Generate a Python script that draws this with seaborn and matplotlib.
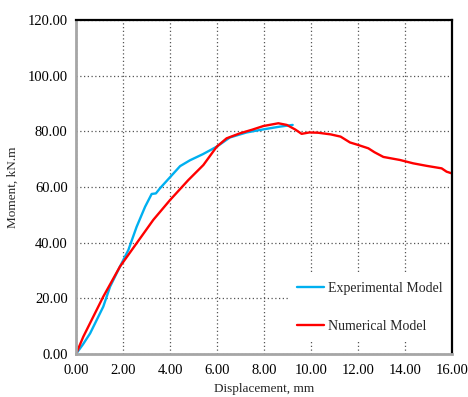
import numpy as np
import pandas as pd
import matplotlib
matplotlib.use("Agg")
import matplotlib.pyplot as plt
import seaborn as sns

exp_x = [0.0, 0.30, 0.60, 1.16, 1.45, 1.87, 2.23, 2.58, 2.94, 3.22, 3.40, 3.57, 4.0, 4.43, 4.85, 5.40, 5.99, 6.55, 7.26, 7.97, 8.68, 9.22]
exp_y = [0.0, 3.5, 7.4, 17.0, 24.2, 31.4, 37.4, 45.7, 52.9, 57.5, 57.7, 59.5, 63.5, 67.5, 69.6, 71.8, 74.5, 77.8, 79.6, 80.7, 81.7, 82.3]

num_x = [0.0, 0.31, 1.16, 1.87, 2.58, 3.29, 4.0, 4.78, 5.42, 5.99, 6.41, 6.98, 7.50, 7.97, 8.61, 8.97, 9.32, 9.60, 9.93, 10.30, 10.84, 11.26, 11.66, 11.97, 12.44, 12.70, 13.08, 13.79, 14.35, 14.92, 15.56, 15.77, 15.99]
num_y = [0.0, 6.2, 20.6, 31.4, 39.8, 48.2, 55.3, 62.5, 67.9, 74.5, 77.5, 79.3, 80.6, 81.9, 82.9, 82.3, 80.7, 79.1, 79.6, 79.5, 78.9, 78.1, 76.0, 75.2, 73.9, 72.5, 70.8, 69.7, 68.5, 67.6, 66.7, 65.5, 64.9]

labels = ["Experimental Model", "Numerical Model"]
colors = ["#00B0F0", "#FF0000"]

df = pd.concat([
    pd.DataFrame({"x": exp_x, "y": exp_y, "series": labels[0]}),
    pd.DataFrame({"x": num_x, "y": num_y, "series": labels[1]}),
], ignore_index=True)

sns.set_style("white")
plt.rcParams["font.family"] = ["Liberation Serif", "DejaVu Serif"]

fig = plt.figure(figsize=(4.68, 3.97), dpi=100)
ax = fig.add_axes([76/468, 43/397, 376/468, 334/397])

sns.lineplot(data=df, x="x", y="y", hue="series", palette=dict(zip(labels, colors)),
             sort=False, estimator=None, linewidth=1.7, ax=ax)

ax.set_xlim(0, 16)
ax.set_ylim(0, 120)
ax.set_xticks(np.arange(0, 16.1, 2))
ax.set_yticks(np.arange(0, 120.1, 20))
ax.xaxis.set_major_formatter(matplotlib.ticker.FormatStrFormatter("%.2f"))
ax.yaxis.set_major_formatter(matplotlib.ticker.FormatStrFormatter("%.2f"))
ax.tick_params(axis="both", labelsize=10.5, length=0, colors="black")
ax.tick_params(axis="x", pad=7)
ax.tick_params(axis="y", pad=6)

ax.grid(True, color="#555555", linestyle=(0, (1, 2)), linewidth=0.9)
ax.set_axisbelow(True)

for s in ["left", "bottom"]:
    ax.spines[s].set_color("#A6A6A6")
    ax.spines[s].set_linewidth(2.0)
for s in ["top", "right"]:
    ax.spines[s].set_color("black")
    ax.spines[s].set_linewidth(1.6)

ax.set_xlabel("Displacement, mm", fontsize=9.5)
ax.xaxis.set_label_coords(0.5, -(383 - 354) / 334)
ax.set_ylabel("Moment, kN.m", fontsize=9.5, labelpad=6)

leg = ax.legend(loc="upper left", bbox_to_anchor=((289-76)/376, (354-274)/334),
                frameon=True, fontsize=10, handlelength=2.0, handletextpad=0.25,
                labelspacing=1.85, borderpad=0.55, borderaxespad=0)
leg.get_frame().set_facecolor("white")
leg.get_frame().set_edgecolor("none")
leg.get_frame().set_alpha(1)
leg.get_frame().set_boxstyle("square", pad=0)
leg.set_zorder(2.4)
for line in leg.get_lines():
    line.set_linewidth(1.7)

fig.savefig("out.png", dpi=100)
